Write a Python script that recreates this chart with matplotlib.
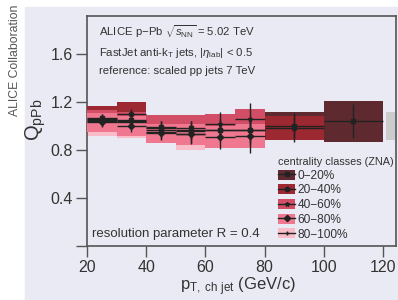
import numpy as np
import matplotlib
matplotlib.use("Agg")
import matplotlib.pyplot as plt
from matplotlib.patches import Rectangle, Patch
from matplotlib.lines import Line2D

# bins in pT (GeV/c)
edges = [20, 30, 40, 50, 60, 70, 80, 100, 120]

# Q_pPb per centrality class (values, stat, sys), bins starting at 20 GeV/c
q_0_20 = [1.07, 1.05, 0.99, 0.98, 0.97, 0.97, 1.00, 1.04]
stat_0_20 = [0.03, 0.04, 0.05, 0.06, 0.08, 0.10, 0.11, 0.14]
sys_0_20 = [0.07, 0.08, 0.08, 0.08, 0.08, 0.08, 0.12, 0.17]

q_20_40 = [1.06, 1.10, 0.97, 0.96, 0.965, 0.965, 0.98]
stat_20_40 = [0.04, 0.04, 0.05, 0.06, 0.09, 0.12, 0.11]
sys_20_40 = [0.11, 0.10, 0.10, 0.10, 0.10, 0.10, 0.10]

q_40_60 = [1.05, 1.04, 0.98, 0.97, 1.02, 1.06]
stat_40_60 = [0.04, 0.05, 0.06, 0.075, 0.10, 0.13]
sys_40_60 = [0.08, 0.08, 0.11, 0.12, 0.08, 0.085]

q_60_80 = [1.03, 1.00, 0.94, 0.93, 0.91, 0.915]
stat_60_80 = [0.04, 0.05, 0.06, 0.075, 0.10, 0.14]
sys_60_80 = [0.08, 0.08, 0.08, 0.085, 0.09, 0.10]

q_80_100 = [1.04, 1.03, 0.95, 0.93]
stat_80_100 = [0.04, 0.05, 0.06, 0.08]
sys_80_100 = [0.12, 0.13, 0.09, 0.13]

labels = ["0\u221220%", "20\u221240%", "40\u221260%", "60\u221280%", "80\u2212100%"]
colors = ["#5e2a2f", "#9c2832", "#d24d66", "#ef7890", "#f8bdc8"]
markers = ["s", "o", "*", "D", "+"]

# normalisation uncertainty (gray box at Q=1)
norm_x = [121, 124]
norm_unc = 0.12

classes = [
    (q_0_20, stat_0_20, sys_0_20),
    (q_20_40, stat_20_40, sys_20_40),
    (q_40_60, stat_40_60, sys_40_60),
    (q_60_80, stat_60_80, sys_60_80),
    (q_80_100, stat_80_100, sys_80_100),
]
# drawing order of sys boxes (80-100 at the bottom, 60-80 on top)
box_z = [2, 3, 4, 5, 1]

plt.rcParams["font.family"] = ["Liberation Sans", "DejaVu Sans"]
plt.rcParams["mathtext.fontset"] = "custom"
plt.rcParams["mathtext.rm"] = "Liberation Sans"
plt.rcParams["mathtext.it"] = "Liberation Sans:italic"
txtc = "#333333"

fig = plt.figure(figsize=(3.98, 3.0), dpi=100)
fig.patches.append(Rectangle((25 / 398, 0), 1, 293 / 300, transform=fig.transFigure,
                             color="#eaeaf4", zorder=-5))
ax = fig.add_axes([87 / 398, 54 / 300, 309 / 398, 230 / 300])
ax.set_facecolor("none")

edges = np.array(edges)
for k, (q, st, sy) in enumerate(classes):
    n = len(q)
    lo = edges[:n]
    hi = edges[1:n + 1]
    q = np.array(q)
    sy = np.array(sy)
    ax.bar(lo, 2 * sy, width=hi - lo, bottom=q - sy, align="edge",
           color=colors[k], lw=0, zorder=box_z[k])
    ax.errorbar((lo + hi) / 2, q, xerr=(hi - lo) / 2, yerr=st, fmt=markers[k],
                color="#222222", ms=3.2, lw=1.0, capsize=0, zorder=7)

ax.bar(norm_x[0], 2 * norm_unc, width=norm_x[1] - norm_x[0], bottom=1 - norm_unc,
       align="edge", color="#cccccc", lw=0, zorder=1)

ax.set_xlim(20, 124.4)
ax.set_ylim(0, 1.917)
ax.set_xticks([20, 40, 60, 80, 100, 120])
ax.set_yticks([0, 0.4, 0.8, 1.2, 1.6])
ax.set_yticklabels(["", "0.4", "0.8", "1.2", "1.6"])
ax.tick_params(direction="out", length=8, width=1, color="#555555", pad=2,
               labelsize=11.5, labelcolor=txtc)
for s in ax.spines.values():
    s.set_color("#555555")
    s.set_linewidth(1.2)

ax.set_ylabel(r"Q$_{\rm pPb}$", fontsize=14.5, color=txtc)
ax.yaxis.set_label_coords(-0.125, 0.55)
ax.set_xlabel(r"p$_{\rm T,\ ch\ jet}$ (GeV/c)", fontsize=12, color=txtc)
ax.xaxis.set_label_coords(0.49, -0.13)

ax.text(0.039, 0.915, r"ALICE p$-$Pb $\sqrt{s_{\rm NN}}$ = 5.02 TeV", transform=ax.transAxes,
        fontsize=8.2, color=txtc, va="baseline")
ax.text(0.039, 0.828, r"FastJet anti-k$_{\rm T}$ jets, $|\eta_{\rm lab}|$ < 0.5",
        transform=ax.transAxes, fontsize=8.2, color=txtc, va="baseline")
ax.text(0.039, 0.748, "reference: scaled pp jets 7 TeV", transform=ax.transAxes,
        fontsize=8.2, color=txtc, va="baseline")
ax.text(0.017, 0.04, "resolution parameter R = 0.4", transform=ax.transAxes,
        fontsize=9.5, color=txtc, va="baseline")

fig.text(15 / 398, 1 - 60 / 300, "ALICE Collaboration", rotation=90, ha="center",
         va="center", fontsize=8.8, color="#555555")

handles = [(Patch(facecolor=c, lw=0),
            Line2D([], [], color="#222222", marker=m, ms=3.2, lw=1.0))
           for c, m in zip(colors, markers)]
leg = ax.legend(handles, labels, title="centrality classes (ZNA)", loc="upper left",
                bbox_to_anchor=(272 / 398, 1 - 151 / 300), bbox_transform=fig.transFigure,
                frameon=False, handlelength=1.45, handleheight=0.9, labelspacing=0.22,
                handletextpad=0.2, borderpad=0, alignment="left",
                prop={"size": 8.6})
leg.get_title().set_fontsize(7.8)
leg.get_title().set_color(txtc)
for t in leg.get_texts():
    t.set_color(txtc)

fig.savefig("out.png", dpi=100)
